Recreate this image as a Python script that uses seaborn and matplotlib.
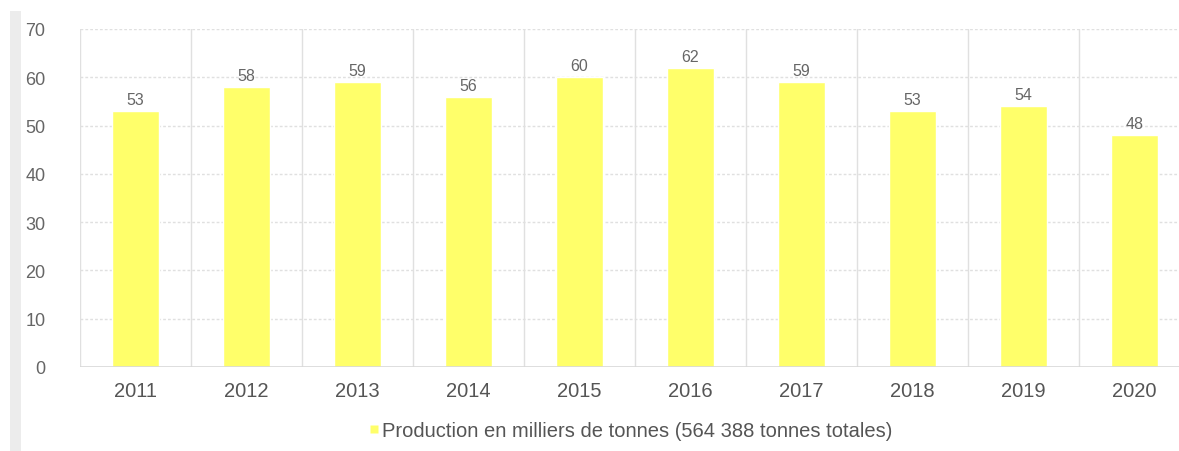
import matplotlib
matplotlib.use("Agg")
import matplotlib.pyplot as plt
import seaborn as sns
import pandas as pd
from matplotlib.patches import Rectangle
from matplotlib.lines import Line2D

years = ["2011", "2012", "2013", "2014", "2015", "2016", "2017", "2018", "2019", "2020"]
production = [53, 58, 59, 56, 60, 62, 59, 53, 54, 48]
series_label = "Production en milliers de tonnes (564 388 tonnes totales)"
y_ticks = [0, 10, 20, 30, 40, 50, 60, 70]

bar_color = "#FFFF6A"
text_color = "#666666"
grid_color = "#E0E0E0"

sns.set_theme(style="white")
plt.rcParams["font.family"] = ["Liberation Sans", "DejaVu Sans"]

df = pd.DataFrame({"year": years, "production": production})

W, H = 1179, 452
fig = plt.figure(figsize=(W / 100, H / 100), dpi=100)
fig.patch.set_facecolor("white")

# light grey strip on the left edge
fig.add_artist(Rectangle((10 / W, 0), 11 / W, 1 - 12 / H, transform=fig.transFigure,
                         facecolor="#ECECEC", edgecolor="none", zorder=0))

left, right, top, bottom = 80, 1179, 30, 368
ax = fig.add_axes([left / W, 1 - bottom / H, (right - left) / W, (bottom - top) / H])

sns.barplot(data=df, x="year", y="production", color=bar_color, width=0.42,
            saturation=1, ax=ax, zorder=3)

ax.set_ylim(0, 70)
ax.set_xlim(-0.5, 9.5 - 11 / 111)
ax.set_yticks(y_ticks)
ax.set_xlabel("")
ax.set_ylabel("")

for s in ax.spines.values():
    s.set_visible(False)

# horizontal dotted gridlines
for v in y_ticks[1:]:
    ax.axhline(v, color=grid_color, lw=1, ls=(0, (2, 1.5)), zorder=1)
ax.axhline(0, color="#D8D8D8", lw=1.2, zorder=4)
# vertical separators between categories
for i in range(len(years)):
    ax.axvline(i - 0.5, color=grid_color, lw=1, zorder=1)

ax.tick_params(axis="y", length=0, pad=25, labelsize=13, labelcolor=text_color)
ax.tick_params(axis="x", length=0, pad=10, labelsize=14.5, labelcolor="#555555")

for i, v in enumerate(production):
    ax.text(i, v + 0.8, f"{v}", ha="center", va="bottom", fontsize=11.5,
            color=text_color, zorder=5)

handle = Line2D([], [], marker="s", color="none", markerfacecolor=bar_color,
                markeredgecolor="none", markersize=6)
fig.legend([handle], [series_label], loc="center", bbox_to_anchor=(630 / W, 1 - 432 / H),
           frameon=False, fontsize=14.5, labelcolor="#555555", handlelength=0.6,
           handletextpad=0.1, borderpad=0)

fig.savefig("out.png", dpi=100)
